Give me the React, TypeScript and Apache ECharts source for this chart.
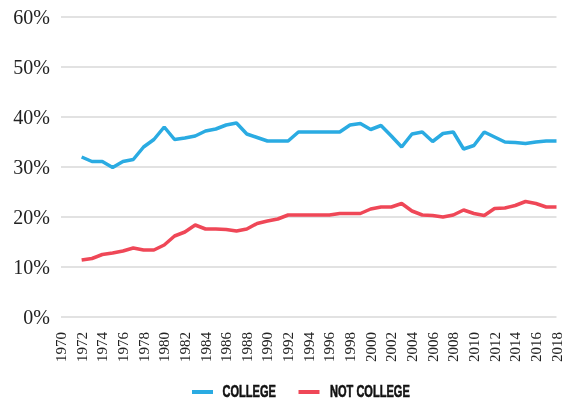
import React, { useEffect, useRef } from "react";
import * as echarts from "echarts";

const years: string[] = [];
for (let y = 1970; y <= 2018; y++) years.push(String(y));

// Values from 1972 to 2018 (percent)
const college = [
  32.0, 31.1, 31.1, 29.9, 31.1, 31.5, 34.0, 35.5, 38.0, 35.5,
  35.8, 36.2, 37.2, 37.6, 38.4, 38.8, 36.6, 35.9, 35.2, 35.2,
  35.2, 37.0, 37.0, 37.0, 37.0, 37.0, 38.4, 38.7, 37.5, 38.3,
  36.2, 34.0, 36.6, 37.0, 35.1, 36.7, 37.0, 33.6, 34.3, 37.0,
  36.0, 35.0, 34.9, 34.7, 35.0, 35.2, 35.2,
];
const notCollege = [
  11.4, 11.7, 12.5, 12.8, 13.2, 13.8, 13.4, 13.4, 14.4, 16.2,
  17.0, 18.4, 17.6, 17.6, 17.5, 17.2, 17.6, 18.7, 19.2, 19.6,
  20.4, 20.4, 20.4, 20.4, 20.4, 20.7, 20.7, 20.7, 21.6, 22.0,
  22.0, 22.7, 21.2, 20.4, 20.3, 20.0, 20.4, 21.4, 20.7, 20.3,
  21.7, 21.8, 22.3, 23.1, 22.7, 22.0, 22.0,
];
const seriesNames = ["COLLEGE", "NOT COLLEGE"];
const colors = ["#2AABE2", "#EF4757"];

const pad = (arr: number[]) => [null, null, ...arr];

const legendFont = {
  fontFamily: "'Liberation Sans', Arial, sans-serif",
  fontWeight: "bold",
  fontSize: 17,
};

export default function App() {
  const ref = useRef<HTMLDivElement>(null);
  useEffect(() => {
    if (!ref.current) return;
    const chart = echarts.init(ref.current, null, { renderer: "svg" });
    const legendItems = [
      { iconX: 192, textX: 222.5 },
      { iconX: 298.5, textX: 330 },
    ];
    chart.setOption({
      animation: false,
      grid: { left: 61, right: 6, top: 17, bottom: 83, containLabel: false },
      graphic: legendItems.flatMap((it, i) => [
        {
          type: "rect",
          x: it.iconX,
          y: 390,
          shape: { x: 0, y: 0, width: 21, height: 4 },
          style: { fill: colors[i] },
          silent: true,
        },
        {
          type: "text",
          x: it.textX,
          y: 391.5,
          scaleX: 0.65,
          style: {
            text: seriesNames[i],
            fill: "#111",
            stroke: "#111",
            lineWidth: 0.6,
            verticalAlign: "middle",
            align: "left",
            ...legendFont,
          },
          silent: true,
        },
      ]),
      xAxis: {
        type: "category",
        data: years,
        boundaryGap: false,
        axisLine: { show: false },
        axisTick: { show: false },
        axisLabel: {
          interval: 1,
          rotate: 90,
          margin: 15,
          fontFamily: "'Liberation Serif', serif",
          fontSize: 15,
          color: "#222",
        },
        splitLine: { show: false },
      },
      yAxis: {
        type: "value",
        min: 0,
        max: 60,
        interval: 10,
        axisLine: { show: false },
        axisTick: { show: false },
        axisLabel: {
          formatter: "{value}%",
          margin: 11,
          fontFamily: "'Liberation Serif', serif",
          fontSize: 20,
          color: "#222",
        },
        splitLine: { lineStyle: { color: "#d9d9d9", width: 1.5 } },
      },
      series: [
        {
          name: seriesNames[0],
          type: "line",
          data: pad(college),
          showSymbol: false,
          symbol: "none",
          lineStyle: { color: colors[0], width: 3.5 },
          itemStyle: { color: colors[0] },
        },
        {
          name: seriesNames[1],
          type: "line",
          data: pad(notCollege),
          showSymbol: false,
          symbol: "none",
          lineStyle: { color: colors[1], width: 3.5 },
          itemStyle: { color: colors[1] },
        },
      ],
    });
    return () => chart.dispose();
  }, []);
  return (
    <div
      ref={ref}
      style={{ position: "fixed", left: 0, top: 0, width: 564, height: 400 }}
    />
  );
}
